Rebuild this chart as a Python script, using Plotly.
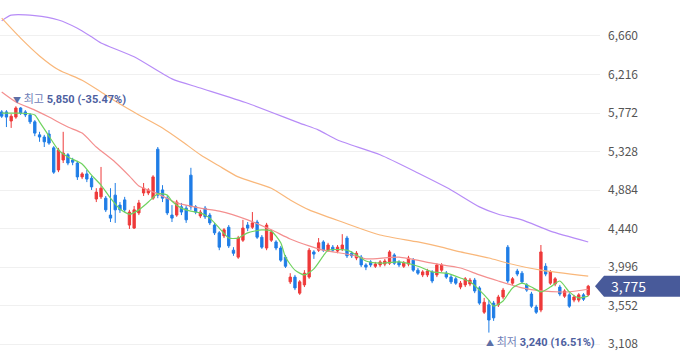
import plotly.graph_objects as go

# ---------------- data ----------------
opens = [5785,5785,5680,5725,5830,5785,5750,5670,5520,5495,5530,5370,5115,5230,5290,5230,5195,5035,5070,5020,
         4780,4805,4790,4595,4825,4710,4770,4480,4445,4620,4850,4850,4790,5355,4885,4790,4595,4595,4690,4675,
         5055,4690,4585,4675,4595,4480,4390,4355,4455,4190,4110,4305,4480,4455,4515,4340,4215,4305,4285,4215,
         4110,3825,3880,3695,3790,3880,4170,4190,4285,4190,4225,4180,4205,4330,4155,4100,4110,4020,4055,4005,
         4020,4030,4040,4135,4055,4005,4030,4075,3960,3905,3905,3940,3905,3960,3925,3880,3860,3765,3790,3800,
         3845,3755,3475,3560,3580,3560,3650,4225,3810,3950,3925,3790,3685,3535,3500,4005,3810,3800,3765,3660,
         3675,3615,3615,3675,3675]
highs = [5805,5805,5760,5850,5840,5805,5770,5690,5555,5520,5575,5390,5370,5555,5310,5255,5220,5090,5115,5045,
         4905,5150,4815,4905,4965,4745,4805,4655,4700,4770,4965,4905,5055,5380,4940,4815,4710,4770,4735,4710,
         5140,4710,4655,4700,4620,4505,4410,4445,4480,4225,4355,4540,4515,4630,4540,4365,4505,4425,4305,4240,
         4135,3925,3905,3845,3960,4215,4190,4330,4305,4275,4250,4250,4375,4355,4180,4180,4135,4040,4075,4055,
         4075,4090,4190,4155,4075,4065,4125,4100,3985,3960,3975,3960,4040,4040,3950,3905,3880,3835,3880,3870,
         3870,3775,3640,3615,3605,3675,3755,4250,3880,3975,3950,3810,3710,3560,4250,4040,3960,3880,3790,3740,
         3695,3675,3695,3695,3790]
lows = [5715,5610,5600,5705,5750,5725,5645,5505,5440,5380,5405,5070,5090,5195,5170,5170,5000,5010,4975,4885,
        4745,4780,4630,4515,4505,4620,4630,4435,4435,4595,4815,4825,4770,4790,4745,4595,4515,4575,4595,4505,
        4655,4605,4560,4550,4480,4365,4190,4330,4215,4125,4090,4285,4410,4435,4320,4205,4190,4285,4190,4055,
        3985,3800,3730,3675,3765,3860,4090,4170,4170,4170,4170,4155,4180,4100,4100,4075,3995,3960,3995,3985,
        3995,4005,4020,4020,3995,3985,4005,3940,3905,3880,3880,3810,3880,3940,3860,3800,3790,3740,3765,3775,
        3695,3560,3455,3240,3375,3535,3625,3810,3790,3890,3800,3710,3525,3455,3475,3890,3790,3775,3660,3640,
        3525,3590,3590,3605,3660]
closes = [5735,5725,5735,5830,5770,5750,5670,5540,5495,5440,5425,5090,5345,5310,5195,5205,5035,5070,5010,4920,
          4860,4905,4655,4560,4655,4655,4655,4630,4655,4735,4905,4885,5035,4825,4790,4620,4560,4745,4630,4540,
          4690,4630,4630,4575,4505,4390,4225,4425,4240,4155,4330,4445,4445,4505,4340,4225,4480,4400,4215,4075,
          4005,3880,3755,3825,3925,4190,4145,4275,4190,4250,4190,4225,4250,4125,4125,4155,4020,3995,4020,4030,
          4055,4065,4170,4040,4020,4040,4100,3960,3925,3940,3950,3835,4020,4020,3880,3825,3810,3810,3860,3845,
          3720,3580,3590,3385,3410,3650,3730,3835,3860,3915,3825,3730,3545,3475,4170,3915,3940,3860,3685,3720,
          3545,3650,3675,3625,3775]
days = list(range(len(closes)))

ma5_idx = [0,4,7,8,10,12,14,17,19,21,23,25,27,29,31,33,35,36,38,40,42,44,46,48,50,52,55,57,59,60,62,64,66,68,69,
           73,75,77,80,84,88,91,94,97,99,101,103,104,106,108,110,112,114,116,118,120,122,124]
ma5_val = [5770,5770,5750,5670,5505,5345,5265,5185,5055,4940,4790,4665,4605,4655,4745,4840,4825,4755,4675,4640,
           4620,4560,4445,4330,4330,4390,4425,4410,4275,4110,3960,3905,3975,4125,4190,4190,4135,4065,4040,4055,
           4005,3940,3925,3870,3825,3730,3615,3545,3605,3755,3810,3765,3710,3765,3835,3710,3640,3660]
ma20_idx = [0,3,7,10,14,17,20,24,27,29,33,37,42,46,52,57,61,65,68,74,77,84,91,97,101,105,110,114,120,124]
ma20_val = [6015,5900,5805,5725,5610,5540,5380,5205,5045,4930,4840,4735,4675,4640,4540,4425,4320,4240,4190,4135,
            4090,4110,4040,3985,3905,3835,3755,3720,3710,3740]
ma60_idx = [0,4,8,12,17,21,25,29,34,38,42,46,50,57,61,65,72,80,88,93,97,103,107,114,124]
ma60_val = [6865,6635,6430,6270,6150,6015,5875,5750,5600,5450,5290,5160,5035,4905,4770,4655,4515,4365,4285,4225,
            4170,4100,4040,3960,3890]
ma120_idx = [0,2,7,12,16,19,21,28,36,42,52,63,67,71,80,88,95,101,105,110,116,124]
ma120_val = [6835,6900,6895,6845,6750,6650,6580,6420,6165,6060,5885,5655,5575,5460,5290,5080,4885,4690,4605,4540,
             4410,4285]

ytick_vals = [3108, 3552, 3996, 4440, 4884, 5328, 5772, 6216, 6660]
ytick_text = ["3,108", "3,552", "3,996", "4,440", "4,884", "5,328", "5,772", "6,216", "6,660"]

# ---------------- styling ----------------
RED = "#ee3a3a"
BLUE = "#1f7de6"
W, H = 680, 358
PLOT_W = 600
Y_RANGE = [2947, 7075]
X_RANGE = [-0.36, -0.36 + PLOT_W / 4.73]
FONT = "Noto Sans CJK KR, Noto Sans, sans-serif"
NOTE_FONT = "Roboto, Noto Sans CJK KR, sans-serif"

fig = go.Figure()

for idx_list, vals, col in [(ma120_idx, ma120_val, "#b78cf7"),
                            (ma60_idx, ma60_val, "#f9b77a"),
                            (ma20_idx, ma20_val, "#f48f8f"),
                            (ma5_idx, ma5_val, "#6fd35f")]:
    fig.add_trace(go.Scatter(x=idx_list, y=vals, mode="lines",
                             line=dict(color=col, width=1.2, shape="spline", smoothing=0.6),
                             hoverinfo="skip", showlegend=False))

fig.add_trace(go.Candlestick(
    x=days, open=opens, high=highs, low=lows, close=closes,
    increasing=dict(line=dict(color=RED, width=1), fillcolor=RED),
    decreasing=dict(line=dict(color=BLUE, width=1), fillcolor=BLUE),
    whiskerwidth=0, showlegend=False))

# ---------------- max / min annotations ----------------
last = closes[-1]
i_max = max(range(len(highs)), key=lambda i: highs[i])
i_min = min(range(len(lows)), key=lambda i: lows[i])
hi, lo = highs[i_max], lows[i_min]
pct_hi = (last - hi) / hi * 100
pct_lo = (last - lo) / lo * 100

fig.add_annotation(x=i_max, y=hi, xref="x", yref="y", showarrow=False,
                   xanchor="left", yanchor="middle", xshift=-5, yshift=7,
                   text=(f"<span style='font-size:8px;color:#5d6fa6'>▼</span> "
                         f"<span style='color:#6f80b8'>최고</span> <b>{hi:,} ({pct_hi:.2f}%)</b>"),
                   font=dict(family=NOTE_FONT, size=11, color="#4d609f"))
fig.add_annotation(x=i_min, y=lo, xref="x", yref="y", showarrow=False,
                   xanchor="left", yanchor="middle", xshift=-5, yshift=-10,
                   text=(f"<span style='font-size:8px;color:#5d6fa6'>▲</span> "
                         f"<span style='color:#6f80b8'>최저</span> <b>{lo:,} ({pct_lo:.2f}%)</b>"),
                   font=dict(family=NOTE_FONT, size=11, color="#4d609f"))

# ---------------- current price tag ----------------
px_per_val = H / (Y_RANGE[1] - Y_RANGE[0])
half = 10.5 / px_per_val
x_tip = 595 / PLOT_W
x_body = 604 / PLOT_W
x_end = W / PLOT_W
path = (f"M {x_tip},{last} L {x_body},{last + half} L {x_end},{last + half} "
        f"L {x_end},{last - half} L {x_body},{last - half} Z")
fig.add_shape(type="path", xref="paper", yref="y", path=path,
              fillcolor="#485a9a", line=dict(width=0), layer="above")
fig.add_annotation(x=609 / PLOT_W, y=last, xref="paper", yref="y", showarrow=False,
                   xanchor="left", yanchor="middle", text=f"{last:,}",
                   font=dict(family=FONT, size=14, color="white"))

fig.update_layout(
    width=W, height=H,
    margin=dict(l=0, r=W - PLOT_W, t=0, b=0),
    paper_bgcolor="white", plot_bgcolor="white",
    showlegend=False,
    xaxis=dict(range=X_RANGE, visible=False, rangeslider=dict(visible=False), fixedrange=True),
    yaxis=dict(range=Y_RANGE, side="right", tickvals=ytick_vals, ticktext=ytick_text,
               showgrid=True, gridcolor="#f0f0f0", gridwidth=1, zeroline=False,
               showline=False, ticks="", ticklabelstandoff=7, fixedrange=True,
               tickfont=dict(family=FONT, size=12, color="#555555")),
    font=dict(family=FONT),
)

fig.write_html("out.html", config={"displayModeBar": False},
               post_script="document.body.style.margin='0';")
